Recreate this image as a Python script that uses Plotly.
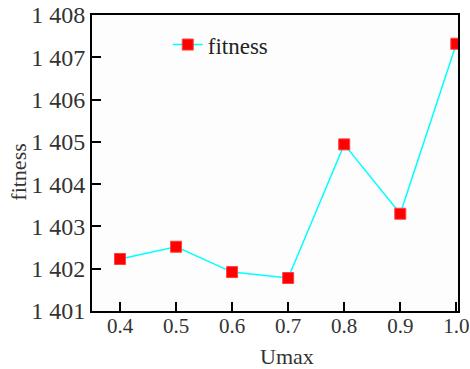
import plotly.graph_objects as go

umax = [0.4, 0.5, 0.6, 0.7, 0.8, 0.9, 1.0]
fitness = [1402.23, 1402.52, 1401.92, 1401.78, 1404.94, 1403.30, 1407.32]
x_ticks = [0.4, 0.5, 0.6, 0.7, 0.8, 0.9, 1.0]
y_ticks = [1401, 1402, 1403, 1404, 1405, 1406, 1407, 1408]

FONT = "Liberation Serif"
TXT = "#333333"

fig = go.Figure()
fig.add_trace(go.Scatter(
    x=umax, y=fitness, mode="lines+markers", name="fitness",
    line=dict(color="#00ffff", width=1.5),
    marker=dict(symbol="square", size=11, color="#ff0000",
                line=dict(color="#ff4040", width=1)),
))

axis_common = dict(
    showline=True, linecolor="black", linewidth=2, mirror=True,
    ticks="inside", ticklen=9, tickwidth=2, tickcolor="black",
    showgrid=False, zeroline=False, automargin=False,
    ticklabeloverflow="allow",
)

fig.update_layout(
    width=470, height=369,
    margin=dict(l=92, r=12, t=15, b=58),
    paper_bgcolor="white", plot_bgcolor="#fdfdfd",
    separators=". ",
    font=dict(family=FONT, size=22, color=TXT),
    showlegend=True,
    legend=dict(x=0.207, y=0.9, xanchor="left", yanchor="middle",
                bgcolor="rgba(0,0,0,0)", font=dict(family=FONT, size=23, color="#222222")),
    xaxis=dict(range=[0.35, 1.003], tickvals=x_ticks, tickformat=".1f",
               ticklabelstandoff=-5,
               tickfont=dict(family=FONT, size=21, color=TXT), **axis_common),
    yaxis=dict(range=[1401, 1408], tickvals=y_ticks, tickformat=",d",
               tickfont=dict(family=FONT, size=24, color=TXT), **axis_common),
    annotations=[
        dict(text="Umax", xref="paper", yref="paper", x=0.532, y=-0.153,
             xanchor="center", yanchor="middle", showarrow=False,
             font=dict(family=FONT, size=22, color=TXT)),
        dict(text="fitness", xref="paper", yref="paper", x=-0.2, y=0.47,
             xanchor="center", yanchor="middle", showarrow=False, textangle=-90,
             font=dict(family=FONT, size=22, color=TXT)),
    ],
)

fig.write_html("out.html")
